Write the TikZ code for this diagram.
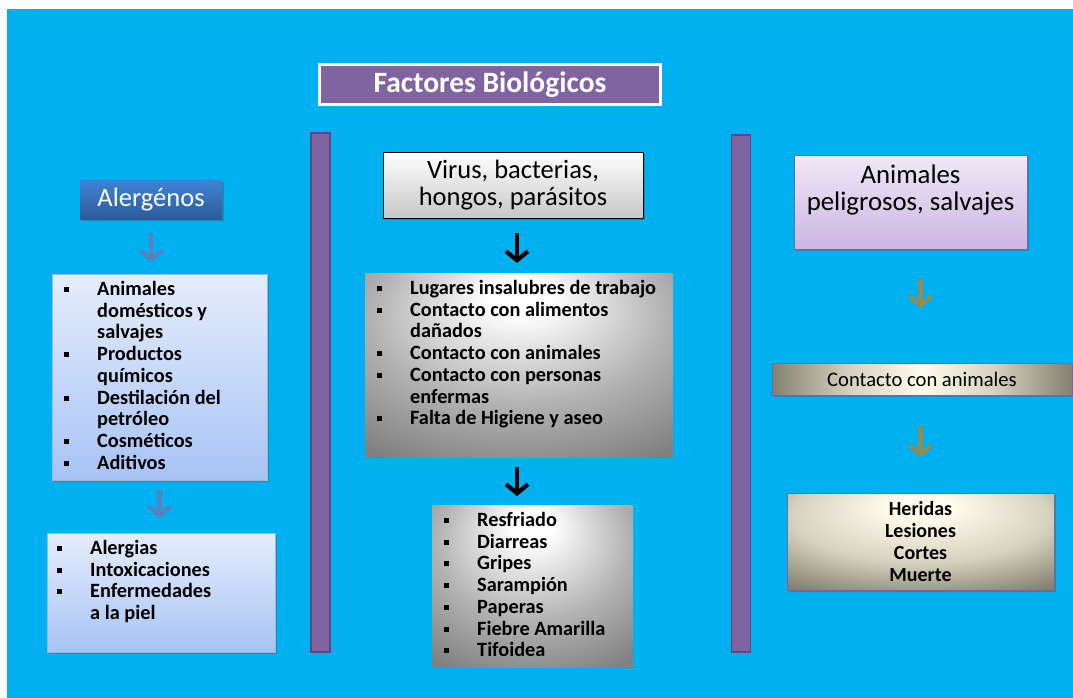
\documentclass[tikz,border=0pt]{standalone}
\usepackage{fontspec}
\setmainfont{Carlito}
\usetikzlibrary{arrows.meta,shadows}

\definecolor{sky}{HTML}{00B0F0}
\definecolor{plum}{HTML}{8064A2}
\definecolor{plumdark}{HTML}{5C4A7E}
\definecolor{alertop}{HTML}{4283D6}
\definecolor{alerbot}{HTML}{2B5C9C}
\definecolor{paletop}{HTML}{E6EDFC}
\definecolor{palebot}{HTML}{A7C3F5}
\definecolor{paleedge}{HTML}{A3B6D8}
\definecolor{lavtop}{HTML}{F0E9F7}
\definecolor{lavbot}{HTML}{CBB5E3}
\definecolor{steelarrow}{HTML}{5A7FBC}
\definecolor{olivearrow}{HTML}{948A54}
\definecolor{creamhi}{HTML}{FFFCEC}
\definecolor{creammid}{HTML}{D6D2BF}
\definecolor{creamdk}{HTML}{858170}
\definecolor{greymid}{HTML}{B2B2B2}
\definecolor{greydk}{HTML}{808080}

% soft highlight near the top edge, darker towards the bottom corners
\pgfdeclareradialshading{greyglow}{\pgfpoint{0bp}{20bp}}{%
  color(0bp)=(white); color(5bp)=(white); color(24bp)=(greymid);
  color(40bp)=(greydk); color(70bp)=(greydk)}
\pgfdeclareradialshading{creamglow}{\pgfpoint{0bp}{20bp}}{%
  color(0bp)=(creamhi); color(6bp)=(creamhi); color(24bp)=(creammid);
  color(40bp)=(creamdk); color(70bp)=(creamdk)}
\pgfdeclarehorizontalshading{creamband}{100bp}{%
  color(0bp)=(creamdk); color(25bp)=(creamdk); color(38bp)=(creammid);
  color(50bp)=(creamhi); color(62bp)=(creammid); color(75bp)=(creamdk);
  color(100bp)=(creamdk)}

\newcommand\blt{\makebox[33pt][l]{\rule[3.5pt]{5pt}{5pt}}}

\tikzset{
  panel/.style={inner sep=0pt, outer sep=0pt},
  softshadow/.style={drop shadow={opacity=0.35, shadow xshift=1.5pt, shadow yshift=-1.5pt, fill=black!70}},
  bar/.style={panel, fill=plum, draw=plumdark, line width=1.5pt, minimum width=19pt},
  listtext/.style={inner sep=0pt, anchor=base west, font=\fontsize{20.3}{21.7}\selectfont\bfseries},
  arrowline/.style={line width=4.2pt, -{Straight Barb[length=9pt,width=22pt]}},
}

\begin{document}
\begin{tikzpicture}[x=1pt,y=-1pt]
  \useasboundingbox (0,0) rectangle (1073,698);
  \fill[white] (0,0) rectangle (1073,698);
  \fill[sky] (7,9) rectangle (1073,698);

  % heading
  \node[panel, fill=plum, draw=white, line width=3pt, minimum width=341pt, minimum height=40pt,
        text=white, font=\fontsize{29.5}{32}\selectfont\bfseries, softshadow] (title) at (490,84.5) {Factores Biológicos};

  % column separators
  \node[bar, minimum height=519pt] (barL) at (320.5,392.5) {};
  \node[bar, minimum height=517pt] (barR) at (741,393.5) {};

  % left column
  \node[panel, top color=alertop, bottom color=alerbot, minimum width=142pt, minimum height=39pt,
        text=white, font=\fontsize{26.5}{28}\selectfont, softshadow] (alerg) at (151,199.5) {Alergénos};
  \node[panel, top color=paletop, bottom color=palebot, draw=paleedge, line width=0.8pt,
        minimum width=215pt, minimum height=206pt, softshadow] (boxA1) at (159.5,377) {};
  \node[panel, top color=paletop, bottom color=palebot, draw=paleedge, line width=0.8pt,
        minimum width=228pt, minimum height=119pt, softshadow] (boxA2) at (161,592.5) {};
  \node[listtext] (txtA1) at ([shift={(12,21.5)}]boxA1.north west) {%
    \begin{tabular}[t]{@{}l@{}l@{}}
      \blt & Animales\\ & domésticos y\\ & salvajes\\
      \blt & Productos\\ & químicos\\
      \blt & Destilación del\\ & petróleo\\
      \blt & Cosméticos\\
      \blt & Aditivos
    \end{tabular}};
  \node[listtext] (txtA2) at ([shift={(10,21.5)}]boxA2.north west) {%
    \begin{tabular}[t]{@{}l@{}l@{}}
      \blt & Alergias\\
      \blt & Intoxicaciones\\
      \blt & Enfermedades\\ & a la piel
    \end{tabular}};
  \draw[arrowline, steelarrow, shorten <=14pt, shorten >=12pt] (alerg.south) -- (alerg.south |- boxA1.north);
  \draw[arrowline, steelarrow, shorten <=10pt, shorten >=15pt] (boxA1.south) -- (boxA1.south |- boxA2.north);

  % centre column
  \node[panel, top color=white, bottom color=black!22, draw=black, line width=1pt,
        minimum width=260pt, minimum height=66pt, align=center,
        font=\fontsize{26.5}{27}\selectfont, softshadow] (virus) at (513,185) {Virus, bacterias,\\hongos, parásitos};
  \node[panel, shading=greyglow, minimum width=308pt, minimum height=184pt] (boxC1) at (519,365) {};
  \node[panel, shading=greyglow, minimum width=201pt, minimum height=162pt] (boxC2) at (532.5,586) {};
  \node[listtext] (txtC1) at ([shift={(12,21.5)}]boxC1.north west) {%
    \begin{tabular}[t]{@{}l@{}l@{}}
      \blt & Lugares insalubres de trabajo\\
      \blt & Contacto con alimentos\\ & dañados\\
      \blt & Contacto con animales\\
      \blt & Contacto con personas\\ & enfermas\\
      \blt & Falta de Higiene y aseo
    \end{tabular}};
  \node[listtext] (txtC2) at ([shift={(12,21.5)}]boxC2.north west) {%
    \begin{tabular}[t]{@{}l@{}l@{}}
      \blt & Resfriado\\
      \blt & Diarreas\\
      \blt & Gripes\\
      \blt & Sarampión\\
      \blt & Paperas\\
      \blt & Fiebre Amarilla\\
      \blt & Tifoidea
    \end{tabular}};
  \draw[arrowline, black, shorten <=15pt, shorten >=10pt] ([xshift=4pt]virus.south) -- ([xshift=4pt]virus.south |- boxC1.north);
  \draw[arrowline, black, shorten <=10pt, shorten >=9pt] ([xshift=-2pt]boxC1.south) -- ([xshift=-2pt]boxC1.south |- boxC2.north);

  % right column
  \node[panel, top color=lavtop, bottom color=lavbot, draw=plum, line width=0.8pt,
        minimum width=233pt, minimum height=94pt, softshadow] (danger) at (910.5,202) {};
  \node[inner sep=0pt, anchor=base, align=center, font=\fontsize{26.8}{27}\selectfont] (txtR) at ([shift={(0,55)}]danger.north)
        {Animales\\peligrosos, salvajes};
  \node[panel, shading=creamband, draw=plum, line width=0.8pt, minimum width=300pt, minimum height=32pt,
        font=\fontsize{20.6}{22}\selectfont, softshadow] (contact) at (922,379) {Contacto con animales};
  \node[panel, shading=creamglow, draw=plum, line width=0.8pt, minimum width=267pt, minimum height=97pt,
        align=center, font=\fontsize{20}{22}\selectfont\bfseries, softshadow] (harm) at (920.5,541.5)
        {Heridas\\Lesiones\\Cortes\\Muerte};
  \draw[arrowline, olivearrow, shorten <=30pt, shorten >=55pt] (harm.north |- danger.south) -- (harm.north |- contact.north);
  \draw[arrowline, olivearrow, shorten <=31pt, shorten >=36pt] (harm.north |- contact.south) -- (harm.north);
\end{tikzpicture}
\end{document}
